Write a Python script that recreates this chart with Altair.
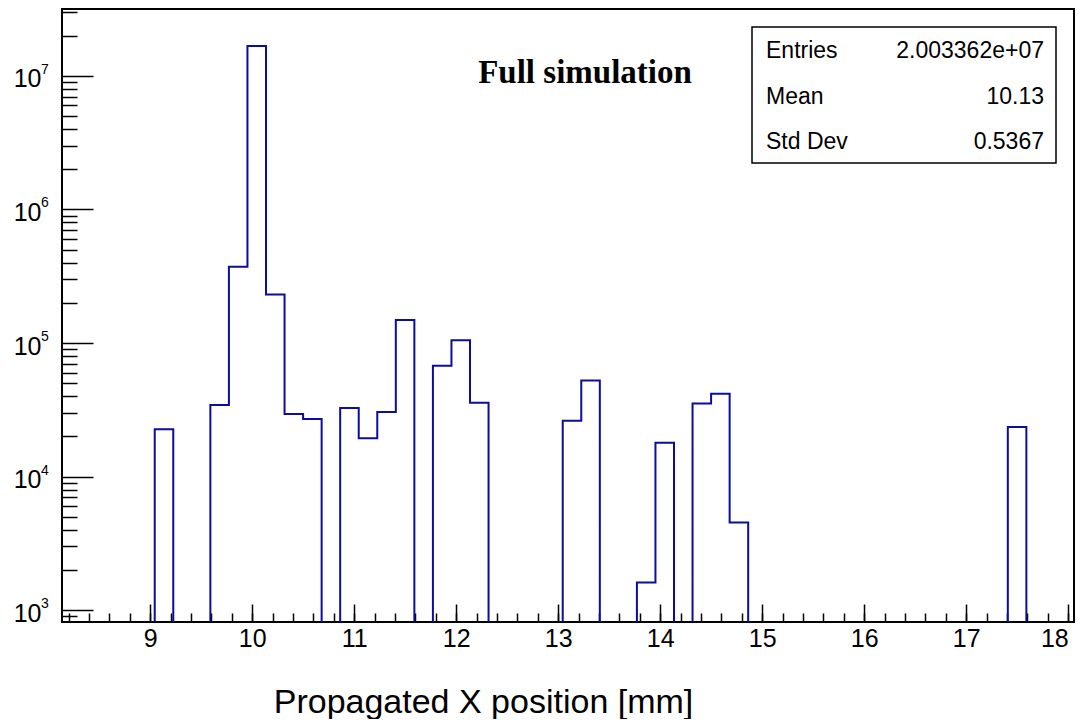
import altair as alt
import pandas as pd

# ---------------- data ----------------
x_lo, x_hi = 8.135, 18.135          # histogram / axis range
n_bins = 55
counts = [0, 0, 0, 0, 0, 22600, 0, 0, 34300, 372000, 16750000, 231000, 29400, 27000, 0,
          32600, 19400, 30500, 149000, 0, 67500, 105000, 35700, 0, 0, 0, 0,
          26200, 52500, 0, 0, 1610, 17900, 0, 35300, 41700, 4540,
          0, 0, 0, 0, 0, 0, 0, 0, 0, 0, 0, 0, 0, 0, 23500, 0, 0, 0]
assert len(counts) == n_bins

y_lo, y_hi = 816, 3.166e7
x_major = [9, 10, 11, 12, 13, 14, 15, 16, 17, 18]
x_minor = [round(8.2 + 0.2 * i, 1) for i in range(50)]
y_major = [1e3, 1e4, 1e5, 1e6, 1e7]
y_exponents = ["3", "4", "5", "6", "7"]
y_minor = [m * 10 ** e for e in range(2, 8) for m in range(2, 10) if y_lo <= m * 10 ** e <= y_hi]

x_title = "Propagated X position [mm]"
plot_label = "Full simulation"
stat_names = ["Entries", "Mean", "Std Dev"]
stat_values = ["2.003362e+07", "10.13", "0.5367"]

# step outline points built from the bins
w = (x_hi - x_lo) / n_bins
rows = []
for k, c in enumerate(counts):
    v = c if c > 0 else 1.0
    rows.append({"i": 2 * k, "x": x_lo + k * w, "y": v})
    rows.append({"i": 2 * k + 1, "x": x_lo + (k + 1) * w, "y": v})
df = pd.DataFrame(rows)

SANS = "Liberation Sans"
SERIF = "Liberation Serif"
BLUE = "#0c0c9e"
W, H = 1012, 613

xs = alt.Scale(domain=[x_lo, x_hi], range=[0, 1020], nice=False, zero=False)
ys = alt.Scale(type="log", domain=[y_lo, y_hi], nice=False)

hist = alt.Chart(df).mark_line(color=BLUE, strokeWidth=2, clip=True).encode(
    x=alt.X("x:Q", scale=xs, axis=alt.Axis(
        orient="bottom", values=x_major, tickSize=18, offset=-18, domain=False, grid=False,
        tickColor="black", tickWidth=1.5, labelFont=SANS, labelFontSize=25, labelColor="black",
        labelPadding=4, labelFlush=False, labelOverlap=False, format="d",
        labelAlign={"condition": {"test": "datum.value >= 18", "value": "right"},
                    "value": "center"},
        title=x_title, titleFont=SANS, titleFontSize=34, titleFontWeight="normal",
        titleColor="black", titleX=421, titleY=108, titleAlign="center",
        titleBaseline="alphabetic")),
    y=alt.Y("y:Q", scale=ys, axis=alt.Axis(
        orient="left", values=y_major, tickSize=31, offset=-31, domain=False, grid=False,
        tickColor="black", tickWidth=1.5, labelExpr="'10'", labelFont=SANS, labelFontSize=25,
        labelColor="black", labelPadding=21, labelBaseline="alphabetic", labelOffset=11,
        labelFlush=False, labelOverlap=False, title=None)),
    order="i:Q",
)

minor_x = alt.Chart(df).mark_line(opacity=0, clip=True).encode(
    x=alt.X("x:Q", scale=xs, axis=alt.Axis(
        orient="bottom", values=x_minor, tickSize=9, offset=-9, domain=False, grid=False,
        tickColor="black", tickWidth=1.5, labels=False, title=None)),
    y=alt.Y("y:Q", scale=ys, axis=None),
    order="i:Q",
)

exp_df = pd.DataFrame({"v": y_major, "e": y_exponents})
expo = alt.Chart(exp_df).mark_text(
    align="left", baseline="alphabetic", dy=-2, fontSize=14, font=SANS, color="black"
).encode(
    x=alt.value(-21),
    y=alt.Y("v:Q", scale=ys, axis=alt.Axis(
        orient="left", values=y_minor, tickSize=15, offset=-15, domain=False, grid=False,
        tickColor="black", tickWidth=1.5, labels=False, title=None)),
    text="e:N",
)

label = alt.Chart(pd.DataFrame({"t": [plot_label]})).mark_text(
    font=SERIF, fontSize=33, fontWeight="bold", align="center", baseline="alphabetic",
    color="black"
).encode(x=alt.value(523), y=alt.value(73.7), text="t:N")

box = alt.Chart(pd.DataFrame({"a": [0]})).mark_rect(
    fill="white", stroke="black", strokeWidth=1.5
).encode(x=alt.value(690), x2=alt.value(994), y=alt.value(18), y2=alt.value(154))

stat_layers = []
row_base = [48.7, 94.5, 140.0]
for name, val, yb in zip(stat_names, stat_values, row_base):
    d = pd.DataFrame({"n": [name], "v": [val]})
    stat_layers.append(alt.Chart(d).mark_text(
        font=SANS, fontSize=23, align="left", baseline="alphabetic", color="black"
    ).encode(x=alt.value(704), y=alt.value(yb), text="n:N"))
    stat_layers.append(alt.Chart(d).mark_text(
        font=SANS, fontSize=23, align="right", baseline="alphabetic", color="black"
    ).encode(x=alt.value(982), y=alt.value(yb), text="v:N"))

chart = alt.layer(hist, minor_x, expo, label, box, *stat_layers).resolve_scale(
    x="independent", y="independent"
).properties(
    width=W, height=H,
    background="white",
    autosize=alt.AutoSizeParams(type="none"),
    padding={"left": 54, "top": 1, "right": 1, "bottom": 97},
).configure_view(stroke="black", strokeWidth=2)

chart.save("out.html", embed_options={"renderer": "svg", "actions": False})
